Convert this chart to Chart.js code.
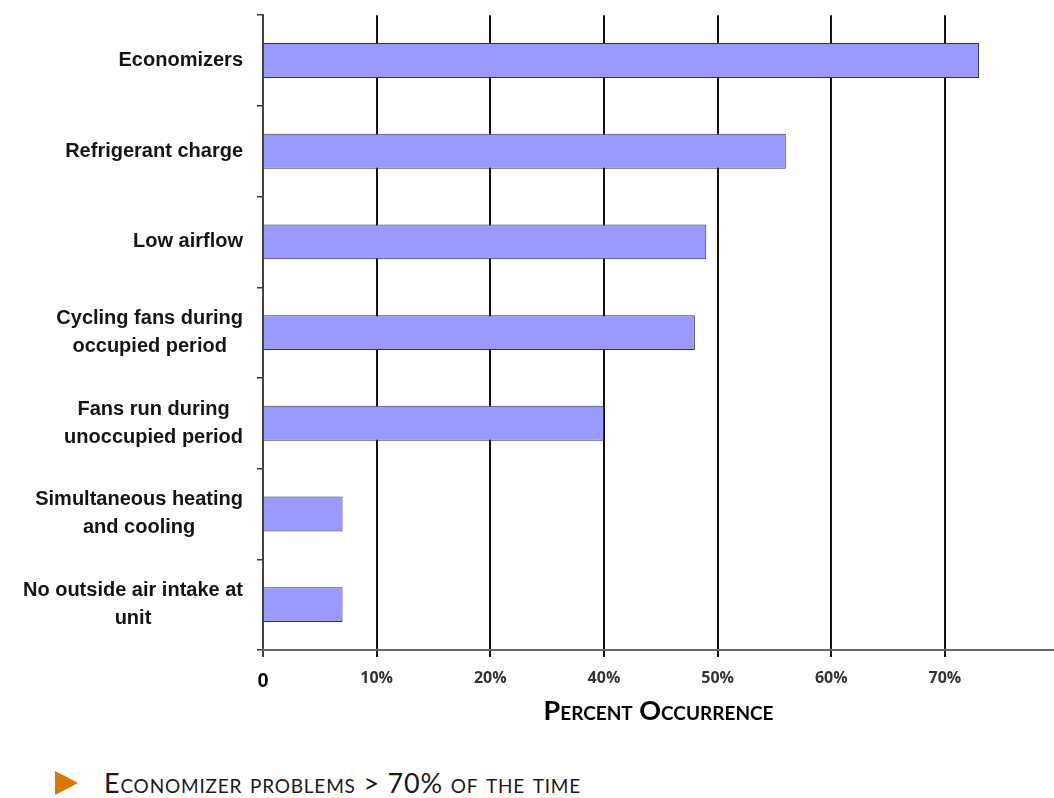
<!DOCTYPE html>
<html>
<head>
<meta charset="utf-8">
<script src="https://cdn.jsdelivr.net/npm/chart.js@4/dist/chart.umd.min.js"></script>
<style>
  html, body { margin: 0; padding: 0; background: #fff; }
  body { width: 1054px; height: 798px; position: relative; overflow: hidden; }
  #wrap { position: absolute; left: 0; top: 0; width: 1054px; height: 740px; }
  #note { position: absolute; left: 55px; top: 766px; font-family: Lato, "Open Sans", sans-serif;
          font-variant: small-caps; font-size: 27px; letter-spacing: 0.8px; color: #1a1a1a; white-space: nowrap; display: flex; align-items: center; }
  #note .tri { width: 0; height: 0; border-top: 12px solid transparent; border-bottom: 12px solid transparent;
               border-left: 23px solid #dd7500; margin-right: 26px; }
</style>
</head>
<body>
<div id="wrap"><canvas id="c"></canvas></div>
<div id="note"><span class="tri"></span><span>Economizer problems &gt; 70% of the time</span></div>
<script>
// Categories (multi-line labels)
const categories = [
  ['Economizers'],
  ['Refrigerant charge'],
  ['Low airflow'],
  ['Cycling fans during', 'occupied period'],
  ['Fans run during', 'unoccupied period'],
  ['Simultaneous heating', 'and cooling'],
  ['No outside air intake at', 'unit']
];
// Bar lengths measured along the drawn axis (axis units, gridline every 10)
const values = [63, 46, 39, 38, 30, 7, 7];
// Tick labels as printed on the original axis (note: "30%" is absent in the source)
const tickLabels = ['0', '10%', '20%', '40%', '50%', '60%', '70%'];
const axisTitle = 'Percent Occurrence';

const LABEL_FONT = 'bold 20px "Liberation Sans", Arial, sans-serif';

const centeredLabels = {
  id: 'centeredLabels',
  afterDraw(chart) {
    const ys = chart.scales.y;
    const ctx = chart.ctx;
    const right = ys.right - ys.options.grid.tickLength - ys.options.ticks.padding;
    ctx.save();
    ctx.font = LABEL_FONT;
    ctx.fillStyle = '#151515';
    ctx.textAlign = 'center';
    ctx.textBaseline = 'middle';
    ys.ticks.forEach((t, i) => {
      const lines = categories[i];
      const w = Math.max(...lines.map(l => ctx.measureText(l).width));
      const cx = right - w / 2;
      const cy = ys.getPixelForTick(i);
      lines.forEach((l, j) => ctx.fillText(l, cx, cy + (j - (lines.length - 1) / 2) * 28));
    });
    ctx.restore();
  }
};

new Chart(document.getElementById('c'), {
  type: 'bar',
  data: {
    labels: categories,
    datasets: [{
      data: values,
      backgroundColor: '#9999ff',
      borderColor: '#333333',
      borderWidth: 1,
      borderSkipped: 'start',
      barPercentage: 0.385,
      categoryPercentage: 1.0
    }]
  },
  options: {
    indexAxis: 'y',
    responsive: true,
    maintainAspectRatio: false,
    animation: false,
    layout: { padding: { top: 9, right: 0, left: 0, bottom: 0 } },
    plugins: { legend: { display: false }, tooltip: { enabled: false }, title: { display: false } },
    scales: {
      y: {
        afterFit(s) { s.width = 263; },
        grid: { drawOnChartArea: false, drawTicks: true, tickLength: 6, offset: true, color: '#333', lineWidth: 1.5 },
        border: { display: true, color: '#444', width: 2 },
        ticks: { padding: 14, callback: () => '', font: { size: 2 } }
      },
      x: {
        min: 0,
        max: 69.6,
        afterFit(s) { s.height = 90; },
        grid: {
          color: ctx => ctx.index === 0 ? '#444' : '#111',
          lineWidth: 2,
          tickLength: 7,
          drawTicks: true
        },
        border: { display: true, color: '#666', width: 2 },
        ticks: {
          stepSize: 10,
          padding: 12,
          maxRotation: 0,
          autoSkip: false,
          color: ctx => ctx.index === 0 ? '#000' : '#333',
          font: ctx => ctx.index === 0
            ? { family: '"Liberation Sans", Arial, sans-serif', size: 20, weight: 'bold' }
            : { family: '"Open Sans", sans-serif', size: 16, weight: 'bold' },
          callback: (v, i) => tickLabels[i]
        },
        title: {
          display: true,
          text: axisTitle,
          color: '#000',
          padding: { top: 0, bottom: 13 },
          font: { family: 'Lato, "Open Sans", sans-serif', size: 27, weight: 'small-caps bold' }
        }
      }
    }
  },
  plugins: [centeredLabels]
});
</script>
</body>
</html>
